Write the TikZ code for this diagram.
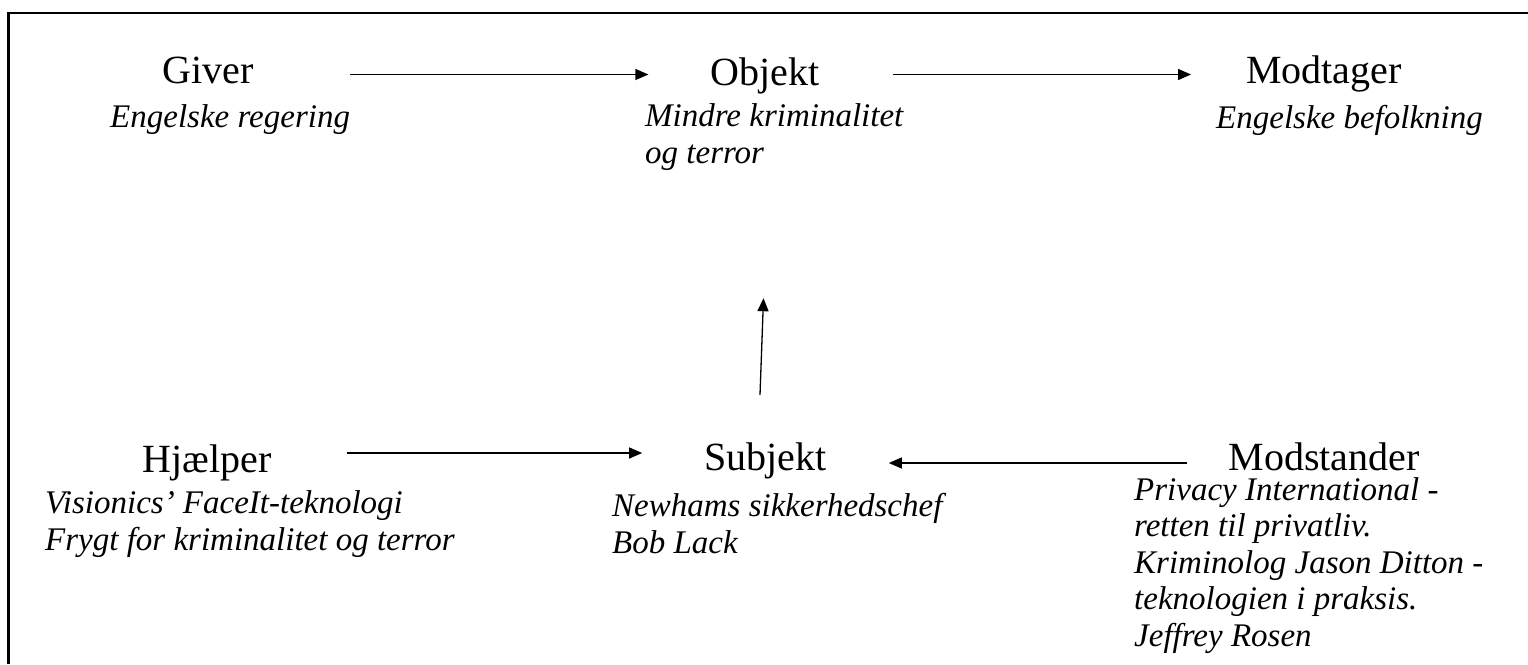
\documentclass[tikz,border=0pt]{standalone}
\usepackage{fontspec}
\setmainfont{Liberation Serif}
\usetikzlibrary{arrows.meta}
\begin{document}
\begin{tikzpicture}[x=1pt,y=-1pt,
  head/.style={font=\fontsize{40}{48}\selectfont, inner sep=0pt, text height=28pt, text depth=0pt, anchor=base},
  det/.style={font=\fontsize{33}{36.5}\selectfont\itshape, inner sep=0pt, align=left, anchor=base west},
  arr/.style={-{Triangle[length=13pt,width=11pt]}, line width=1.3pt}]
\useasboundingbox (0,0) rectangle (1528,664);
\draw[line width=2.5pt] (8.5,664) -- (8.5,13) -- (1528,13);

% headings
\node[head] (giver) at (208.5,83) {Giver};
\node[head] (objekt) at (765,85) {Objekt};
\node[head] (modtager) at (1324,83) {Modtager};
\node[head] (hjaelper) at (207,472) {Hjælper};
\node[head] (subjekt) at (765.5,470) {Subjekt};
\node[head] (modstander) at (1324,470) {Modstander};

% details (anchored at the baseline of the last line)
\node[det] (giverd) at (110,127) {Engelske regering};
\node[det] (objektd) at (645,163) {Mindre kriminalitet\\og terror};
\node[det] (modtagerd) at (1216,128) {Engelske befolkning};
\node[det] (hjaelperd) at (45,550) {Visionics' FaceIt-teknologi\\Frygt for kriminalitet og terror};
\node[det] (subjektd) at (612,553) {Newhams sikkerhedschef\\Bob Lack};
\node[det] (modstanderd) at (1134,646) {Privacy International -\\retten til privatliv.\\Kriminolog Jason Ditton -\\teknologien i praksis.\\Jeffrey Rosen};

% connectors
\draw[arr] ([shift={(96,5.5)}]giver.east) -- ([shift={(-62,3.5)}]objekt.west);
\draw[arr] ([shift={(73,3.5)}]objekt.east) -- ([shift={(-55,5.5)}]modtager.west);
\draw[arr] ([shift={(75,-5)}]hjaelper.east) -- ([shift={(-62,-3)}]subjekt.west);
\draw[arr] ([shift={(-41,7)}]modstander.west) -- ([shift={(62,7)}]subjekt.east);
\draw[arr] ([shift={(-5.5,-47)}]subjekt.north) -- ([shift={(-1.5,213)}]objekt.south);
\end{tikzpicture}
\end{document}
